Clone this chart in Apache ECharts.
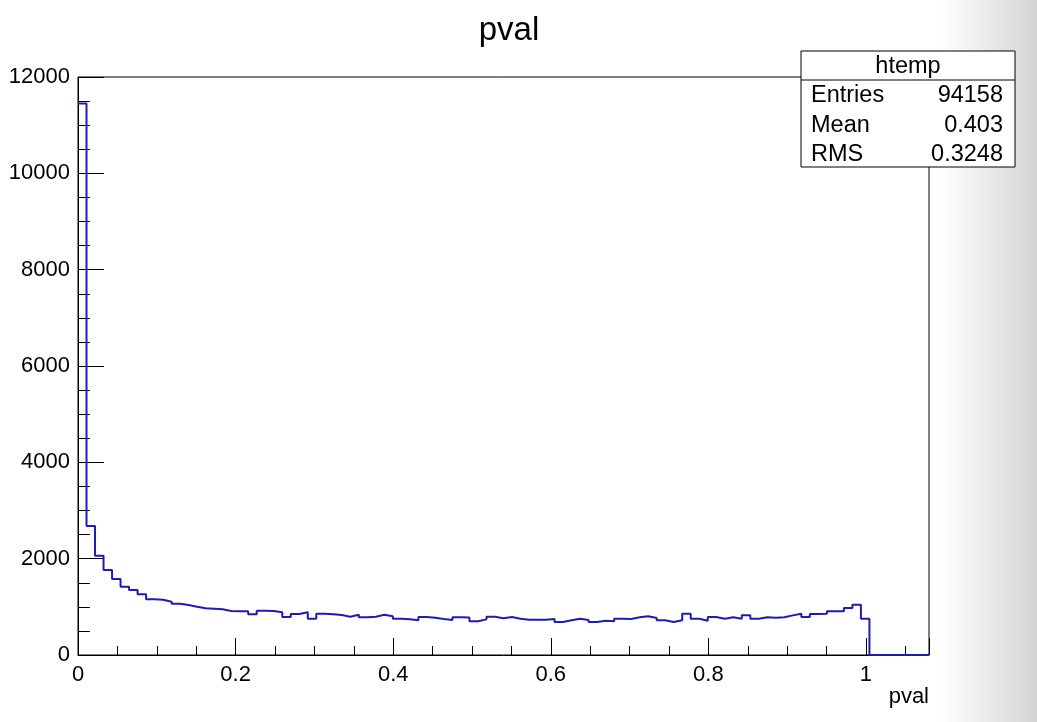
<!DOCTYPE html>
<html>
<head>
<meta charset="utf-8">
<script src="https://cdn.jsdelivr.net/npm/echarts@6/dist/echarts.min.js"></script>
<style>
html,body{margin:0;padding:0;background:#fff;}
#chart{width:1037px;height:722px;}
</style>
</head>
<body>
<div id="chart"></div>
<script>
// Histogram definition (ROOT "htemp" of pval)
const histTitle = 'pval';
const axisTitle = 'pval';
const xMin = 0, xMax = 1.08, nBins = 100;
const binCounts = [
  11450, 2680, 2062, 1765, 1578, 1418, 1349, 1260, 1156, 1148,
  1107, 1065, 1038, 1003, 969, 962, 948, 913, 907, 907,
  845, 920, 913, 886, 789, 851, 886, 754, 858, 844,
  830, 796, 837, 782, 796, 837, 803, 754, 740, 720,
  789, 775, 747, 727, 782, 778, 699, 740, 796, 761,
  789, 754, 733, 733, 733, 747, 685, 720, 754, 727,
  685, 713, 699, 754, 747, 782, 803, 768, 720, 685,
  720, 858, 754, 713, 789, 754, 782, 754, 823, 754,
  782, 775, 782, 823, 858, 789, 851, 858, 907, 907,
  976, 1044, 755, 0, 0, 0, 0, 0, 0, 0
];
const statsName = 'htemp';
const statsLabels = ['Entries', 'Mean', 'RMS'];
const statsValues = ['94158', '0.403', '0.3248'];

const FONT = '"Liberation Sans", Arial, Helvetica, sans-serif';
const binWidth = (xMax - xMin) / nBins;
const stepData = binCounts.map((c, i) => [xMin + i * binWidth, c]);
stepData.push([xMax, binCounts[binCounts.length - 1]]);

const chart = echarts.init(document.getElementById('chart'));

const GL = 78, GR = 929, GT = 77, GB = 655;
const boxL = 801, boxR = 1015, boxT = 51, boxB = 167, boxHead = 80;
const statsFont = '23.5px ' + FONT;

const statsGraphics = [
  { type: 'rect', shape: { x: boxL, y: boxT, width: boxR - boxL, height: boxB - boxT },
    style: { fill: '#fff', stroke: '#000', lineWidth: 1 }, z: 100 },
  { type: 'line', shape: { x1: boxL, y1: boxHead, x2: boxR, y2: boxHead },
    style: { stroke: '#000', lineWidth: 1 }, z: 101 },
  { type: 'text', x: (boxL + boxR) / 2, y: (boxT + boxHead) / 2 + 1, z: 101,
    style: { text: statsName, font: statsFont, fill: '#000', align: 'center', verticalAlign: 'middle' } }
];
const rowY = [96, 126, 155];
statsLabels.forEach((l, i) => {
  statsGraphics.push({ type: 'text', x: 811, y: rowY[i], z: 101,
    style: { text: l, font: statsFont, fill: '#000', align: 'left', verticalAlign: 'middle' } });
  statsGraphics.push({ type: 'text', x: 1003, y: rowY[i], z: 101,
    style: { text: statsValues[i], font: statsFont, fill: '#000', align: 'right', verticalAlign: 'middle' } });
});

const option = {
  backgroundColor: '#fff',
  animation: false,
  title: {
    text: histTitle, left: 504, top: 9, textAlign: 'center',
    textStyle: { fontFamily: FONT, fontSize: 33, fontWeight: 'normal', color: '#000' }
  },
  grid: { left: GL, right: 1037 - GR, top: GT, bottom: 722 - GB, show: true,
    borderColor: '#000', borderWidth: 1, backgroundColor: 'transparent' },
  xAxis: [
    { type: 'value', min: xMin, max: xMax, interval: 0.2, position: 'bottom',
      axisLine: { show: true, onZero: false, lineStyle: { color: '#000', width: 1 } },
      axisTick: { show: true, inside: true, length: 17, lineStyle: { color: '#000', width: 1 } },
      splitLine: { show: false },
      axisLabel: { show: true, margin: 9, color: '#000', fontFamily: FONT, fontSize: 22,
        formatter: v => { const q = v / 0.2; return Math.abs(q - Math.round(q)) < 1e-6 ? String(+v.toFixed(1)) : ''; } } },
    { type: 'value', min: xMin, max: xMax, interval: 0.05, position: 'bottom',
      axisLine: { show: false },
      axisTick: { show: true, inside: true, length: 9, lineStyle: { color: '#000', width: 1 } },
      splitLine: { show: false }, axisLabel: { show: false } }
  ],
  yAxis: {
    type: 'value', min: 0, max: 12000, interval: 2000,
    axisLine: { show: true, lineStyle: { color: '#000', width: 1 } },
    axisTick: { show: true, inside: true, length: 26, lineStyle: { color: '#000', width: 1 } },
    minorTick: { show: true, splitNumber: 4, length: 12, lineStyle: { color: '#000', width: 1 } },
    splitLine: { show: false },
    axisLabel: { show: true, margin: 8, color: '#000', fontFamily: FONT, fontSize: 22,
      formatter: v => String(v) }
  },
  series: [{
    type: 'line', xAxisIndex: 0, yAxisIndex: 0, step: 'end', data: stepData,
    symbol: 'none', clip: true,
    lineStyle: { color: '#1c1cb4', width: 2 }
  }],
  graphic: [
    { type: 'rect', shape: { x: 940, y: 0, width: 97, height: 722 }, z: -10, silent: true,
      style: { fill: new echarts.graphic.LinearGradient(0, 0, 1, 0, [
        { offset: 0, color: 'rgba(255,255,255,1)' },
        { offset: 0.82, color: '#dcdcdc' },
        { offset: 1, color: '#d2d2d2' }]) } },
    { type: 'text', x: GR, y: 697, z: 50,
      style: { text: axisTitle, font: '22px ' + FONT, fill: '#000', align: 'right', verticalAlign: 'middle' } }
  ].concat(statsGraphics)
};
chart.setOption(option);
</script>
</body>
</html>
